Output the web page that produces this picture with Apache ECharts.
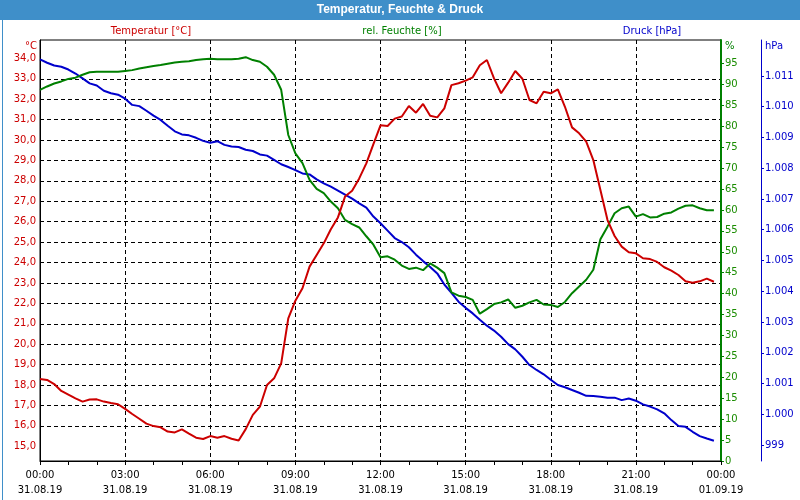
<!DOCTYPE html>
<html>
<head>
<meta charset="utf-8">
<script src="https://cdn.jsdelivr.net/npm/echarts@6/dist/echarts.min.js"></script>
<style>
html,body{margin:0;padding:0;background:#fff;}
#chart{width:800px;height:500px;}
</style>
</head>
<body>
<div id="chart"></div>
<script>
// ---- data ----
var times = [
"00:00","00:15","00:30","00:45","01:00","01:15","01:30","01:45",
"02:00","02:15","02:30","02:45","03:00","03:15","03:30","03:45",
"04:00","04:15","04:30","04:45","05:00","05:15","05:30","05:45",
"06:00","06:15","06:30","06:45","07:00","07:15","07:30","07:45",
"08:00","08:15","08:30","08:45","09:00","09:15","09:30","09:45",
"10:00","10:15","10:30","10:45","11:00","11:15","11:30","11:45",
"12:00","12:15","12:30","12:45","13:00","13:15","13:30","13:45",
"14:00","14:15","14:30","14:45","15:00","15:15","15:30","15:45",
"16:00","16:15","16:30","16:45","17:00","17:15","17:30","17:45",
"18:00","18:15","18:30","18:45","19:00","19:15","19:30","19:45",
"20:00","20:15","20:30","20:45","21:00","21:15","21:30","21:45",
"22:00","22:15","22:30","22:45","23:00","23:15","23:30","23:45"
];
var temperature = [
18.30,18.25,18.05,17.71,17.53,17.35,17.19,17.29,
17.30,17.19,17.12,17.06,16.83,16.58,16.35,16.11,
15.99,15.93,15.72,15.68,15.83,15.62,15.42,15.36,
15.50,15.42,15.50,15.37,15.28,15.84,16.54,16.94,
18.00,18.33,19.06,21.27,22.13,22.74,23.80,24.37,
24.94,25.63,26.21,27.23,27.52,28.12,28.86,29.80,
30.72,30.69,31.05,31.15,31.67,31.34,31.77,31.19,
31.11,31.55,32.69,32.78,32.91,33.07,33.66,33.92,
33.02,32.29,32.81,33.38,33.00,31.96,31.80,32.37,
32.29,32.48,31.63,30.62,30.33,29.92,29.02,27.55,
26.08,25.30,24.78,24.50,24.45,24.21,24.17,24.03,
23.77,23.60,23.39,23.08,23.01,23.08,23.21,23.06
];
var humidity = [
88.7,89.5,90.2,90.7,91.3,91.6,92.3,92.9,
93.0,93.0,93.0,93.0,93.2,93.4,93.8,94.1,
94.4,94.6,94.9,95.2,95.4,95.5,95.8,96.0,
96.1,96.0,96.0,96.0,96.1,96.5,95.8,95.4,
94.2,92.3,88.7,77.9,73.5,71.2,67.2,65.0,
64.0,62.0,60.4,57.6,56.6,55.8,53.7,51.7,
48.7,48.9,48.1,46.7,45.9,46.2,45.6,47.2,
46.2,44.9,40.3,39.5,39.2,38.5,35.2,36.3,
37.5,37.9,38.6,36.6,37.1,37.9,38.5,37.4,
37.3,36.8,38.0,40.1,41.7,43.3,45.7,53.0,
56.0,59.2,60.4,60.8,58.4,59.0,58.2,58.3,
59.1,59.4,60.3,61.0,61.1,60.4,59.9,59.9
];
var pressure = [
1011.54,1011.43,1011.34,1011.30,1011.21,1011.08,1010.92,1010.76,
1010.69,1010.52,1010.44,1010.39,1010.26,1010.06,1010.02,1009.87,
1009.71,1009.57,1009.38,1009.20,1009.10,1009.07,1008.99,1008.89,
1008.83,1008.88,1008.76,1008.71,1008.69,1008.60,1008.56,1008.45,
1008.41,1008.27,1008.13,1008.04,1007.94,1007.83,1007.80,1007.64,
1007.51,1007.40,1007.27,1007.14,1007.01,1006.86,1006.72,1006.43,
1006.21,1005.97,1005.73,1005.60,1005.43,1005.19,1004.98,1004.79,
1004.58,1004.22,1003.95,1003.66,1003.46,1003.28,1003.07,1002.88,
1002.72,1002.52,1002.28,1002.11,1001.87,1001.60,1001.44,1001.30,
1001.12,1000.95,1000.88,1000.79,1000.70,1000.60,1000.59,1000.57,
1000.54,1000.54,1000.46,1000.51,1000.44,1000.32,1000.25,1000.16,
1000.03,999.81,999.62,999.59,999.43,999.29,999.21,999.14
];
var xTickLabels = [
"00:00\n31.08.19","03:00\n31.08.19","06:00\n31.08.19","09:00\n31.08.19",
"12:00\n31.08.19","15:00\n31.08.19","18:00\n31.08.19","21:00\n31.08.19",
"00:00\n01.09.19"
];
var tempTicks = [15,16,17,18,19,20,21,22,23,24,25,26,27,28,29,30,31,32,33,34];
var humTicks = [0,5,10,15,20,25,30,35,40,45,50,55,60,65,70,75,80,85,90,95];
var pressTicks = [999,1000,1001,1002,1003,1004,1005,1006,1007,1008,1009,1010,1011];

// ---- build ----
function toHours(t){ var p = t.split(':'); return (+p[0]) + (+p[1])/60; }
function pairs(vals){ return vals.map(function(v,i){ return [toHours(times[i]), v]; }); }

var RED = '#cc0000', GREEN = '#008000', BLUE = '#0000cc';
var FONT = 'DejaVu Sans';
var chart = echarts.init(document.getElementById('chart'), null, {renderer:'canvas'});

var option = {
  backgroundColor: '#ffffff',
  animation: false,
  textStyle: {fontFamily: FONT},
  grid: {left: 40, right: 79, top: 40, bottom: 39, show: true, borderColor: '#000', borderWidth: 1, backgroundColor: 'transparent'},
  xAxis: {
    type: 'value', min: 0, max: 24, interval: 3,
    axisLine: {show: true, onZero: false, lineStyle: {color: '#000', width: 1}},
    axisTick: {show: true, length: 4, lineStyle: {color: '#000'}},
    minorTick: {show: true, splitNumber: 3, length: 4, lineStyle: {color: '#000'}},
    axisLabel: {
      color: '#000', fontSize: 10, fontFamily: FONT, lineHeight: 15, margin: 7,
      formatter: function(v){ return xTickLabels[Math.round(v/3)]; }
    },
    splitLine: {show: true, showMinLine: false, showMaxLine: false, lineStyle: {color: '#000', type: [4,3], width: 1}}
  },
  yAxis: [
    {
      type: 'value', position: 'left', min: 14.28, max: 34.9,
      axisLine: {show: true, onZero: false, lineStyle: {color: '#000'}},
      axisTick: {show: false, customValues: tempTicks},
      axisLabel: {customValues: tempTicks, color: RED, fontSize: 10, fontFamily: FONT, margin: 4,
        formatter: function(v){ return v.toFixed(1).replace('.', ','); }},
      splitLine: {show: true, showMinLine: false, showMaxLine: false, lineStyle: {color: '#000', type: [4,3], width: 1}}
    },
    {
      type: 'value', position: 'right', offset: 0, min: 0, max: 100.6,
      axisLine: {show: true, onZero: false, lineStyle: {color: GREEN, width: 2}},
      axisTick: {show: true, length: 3, customValues: humTicks, lineStyle: {color: GREEN}},
      axisLabel: {customValues: humTicks, color: '#1a8c00', fontSize: 10, fontFamily: FONT, margin: 4},
      splitLine: {show: false}
    },
    {
      type: 'value', position: 'right', offset: 40, min: 998.48, max: 1012.17,
      axisLine: {show: true, onZero: false, lineStyle: {color: BLUE, width: 1}},
      axisTick: {show: true, length: 3, customValues: pressTicks, lineStyle: {color: BLUE}},
      axisLabel: {customValues: pressTicks, color: BLUE, fontSize: 10, fontFamily: FONT, margin: 4,
        formatter: function(v){ return v >= 1000 ? (v/1000).toFixed(3) : String(Math.round(v)); }},
      splitLine: {show: false}
    }
  ],
  series: [
    {name: 'Temperatur [°C]', type: 'line', yAxisIndex: 0, data: pairs(temperature), showSymbol: false, symbol: 'none',
      lineStyle: {color: RED, width: 2}, itemStyle: {color: RED}, z: 3},
    {name: 'rel. Feuchte [%]', type: 'line', yAxisIndex: 1, data: pairs(humidity), showSymbol: false, symbol: 'none',
      lineStyle: {color: GREEN, width: 2}, itemStyle: {color: GREEN}, z: 2},
    {name: 'Druck [hPa]', type: 'line', yAxisIndex: 2, data: pairs(pressure), showSymbol: false, symbol: 'none',
      lineStyle: {color: BLUE, width: 2}, itemStyle: {color: BLUE}, z: 1}
  ],
  graphic: [
    {type: 'rect', left: 0, top: 0, shape: {width: 800, height: 20}, style: {fill: '#3f8fc9'}, z: 0},
    {type: 'rect', left: 0, top: 0, shape: {x: 0.5, y: 0.5, width: 799, height: 499}, style: {fill: 'none', stroke: '#3f8fc9', lineWidth: 1}, z: 0},
    {type: 'text', x: 400, y: 10, style: {text: 'Temperatur, Feuchte & Druck', fill: '#fff', font: 'bold 12px "Liberation Sans"', textAlign: 'center', textVerticalAlign: 'middle'}},
    {type: 'text', x: 151, y: 31, style: {text: 'Temperatur [°C]', fill: RED, font: '10px "DejaVu Sans"', textAlign: 'center', textVerticalAlign: 'middle'}},
    {type: 'text', x: 402, y: 31, style: {text: 'rel. Feuchte [%]', fill: GREEN, font: '10px "DejaVu Sans"', textAlign: 'center', textVerticalAlign: 'middle'}},
    {type: 'text', x: 652, y: 31, style: {text: 'Druck [hPa]', fill: BLUE, font: '10px "DejaVu Sans"', textAlign: 'center', textVerticalAlign: 'middle'}},
    {type: 'text', x: 37, y: 46, style: {text: '°C', fill: RED, font: '10px "DejaVu Sans"', textAlign: 'right', textVerticalAlign: 'middle'}},
    {type: 'text', x: 725, y: 46, style: {text: '%', fill: GREEN, font: '10px "DejaVu Sans"', textAlign: 'left', textVerticalAlign: 'middle'}},
    {type: 'text', x: 765, y: 46, style: {text: 'hPa', fill: BLUE, font: '10px "DejaVu Sans"', textAlign: 'left', textVerticalAlign: 'middle'}}
  ]
};
chart.setOption(option);
</script>
</body>
</html>
